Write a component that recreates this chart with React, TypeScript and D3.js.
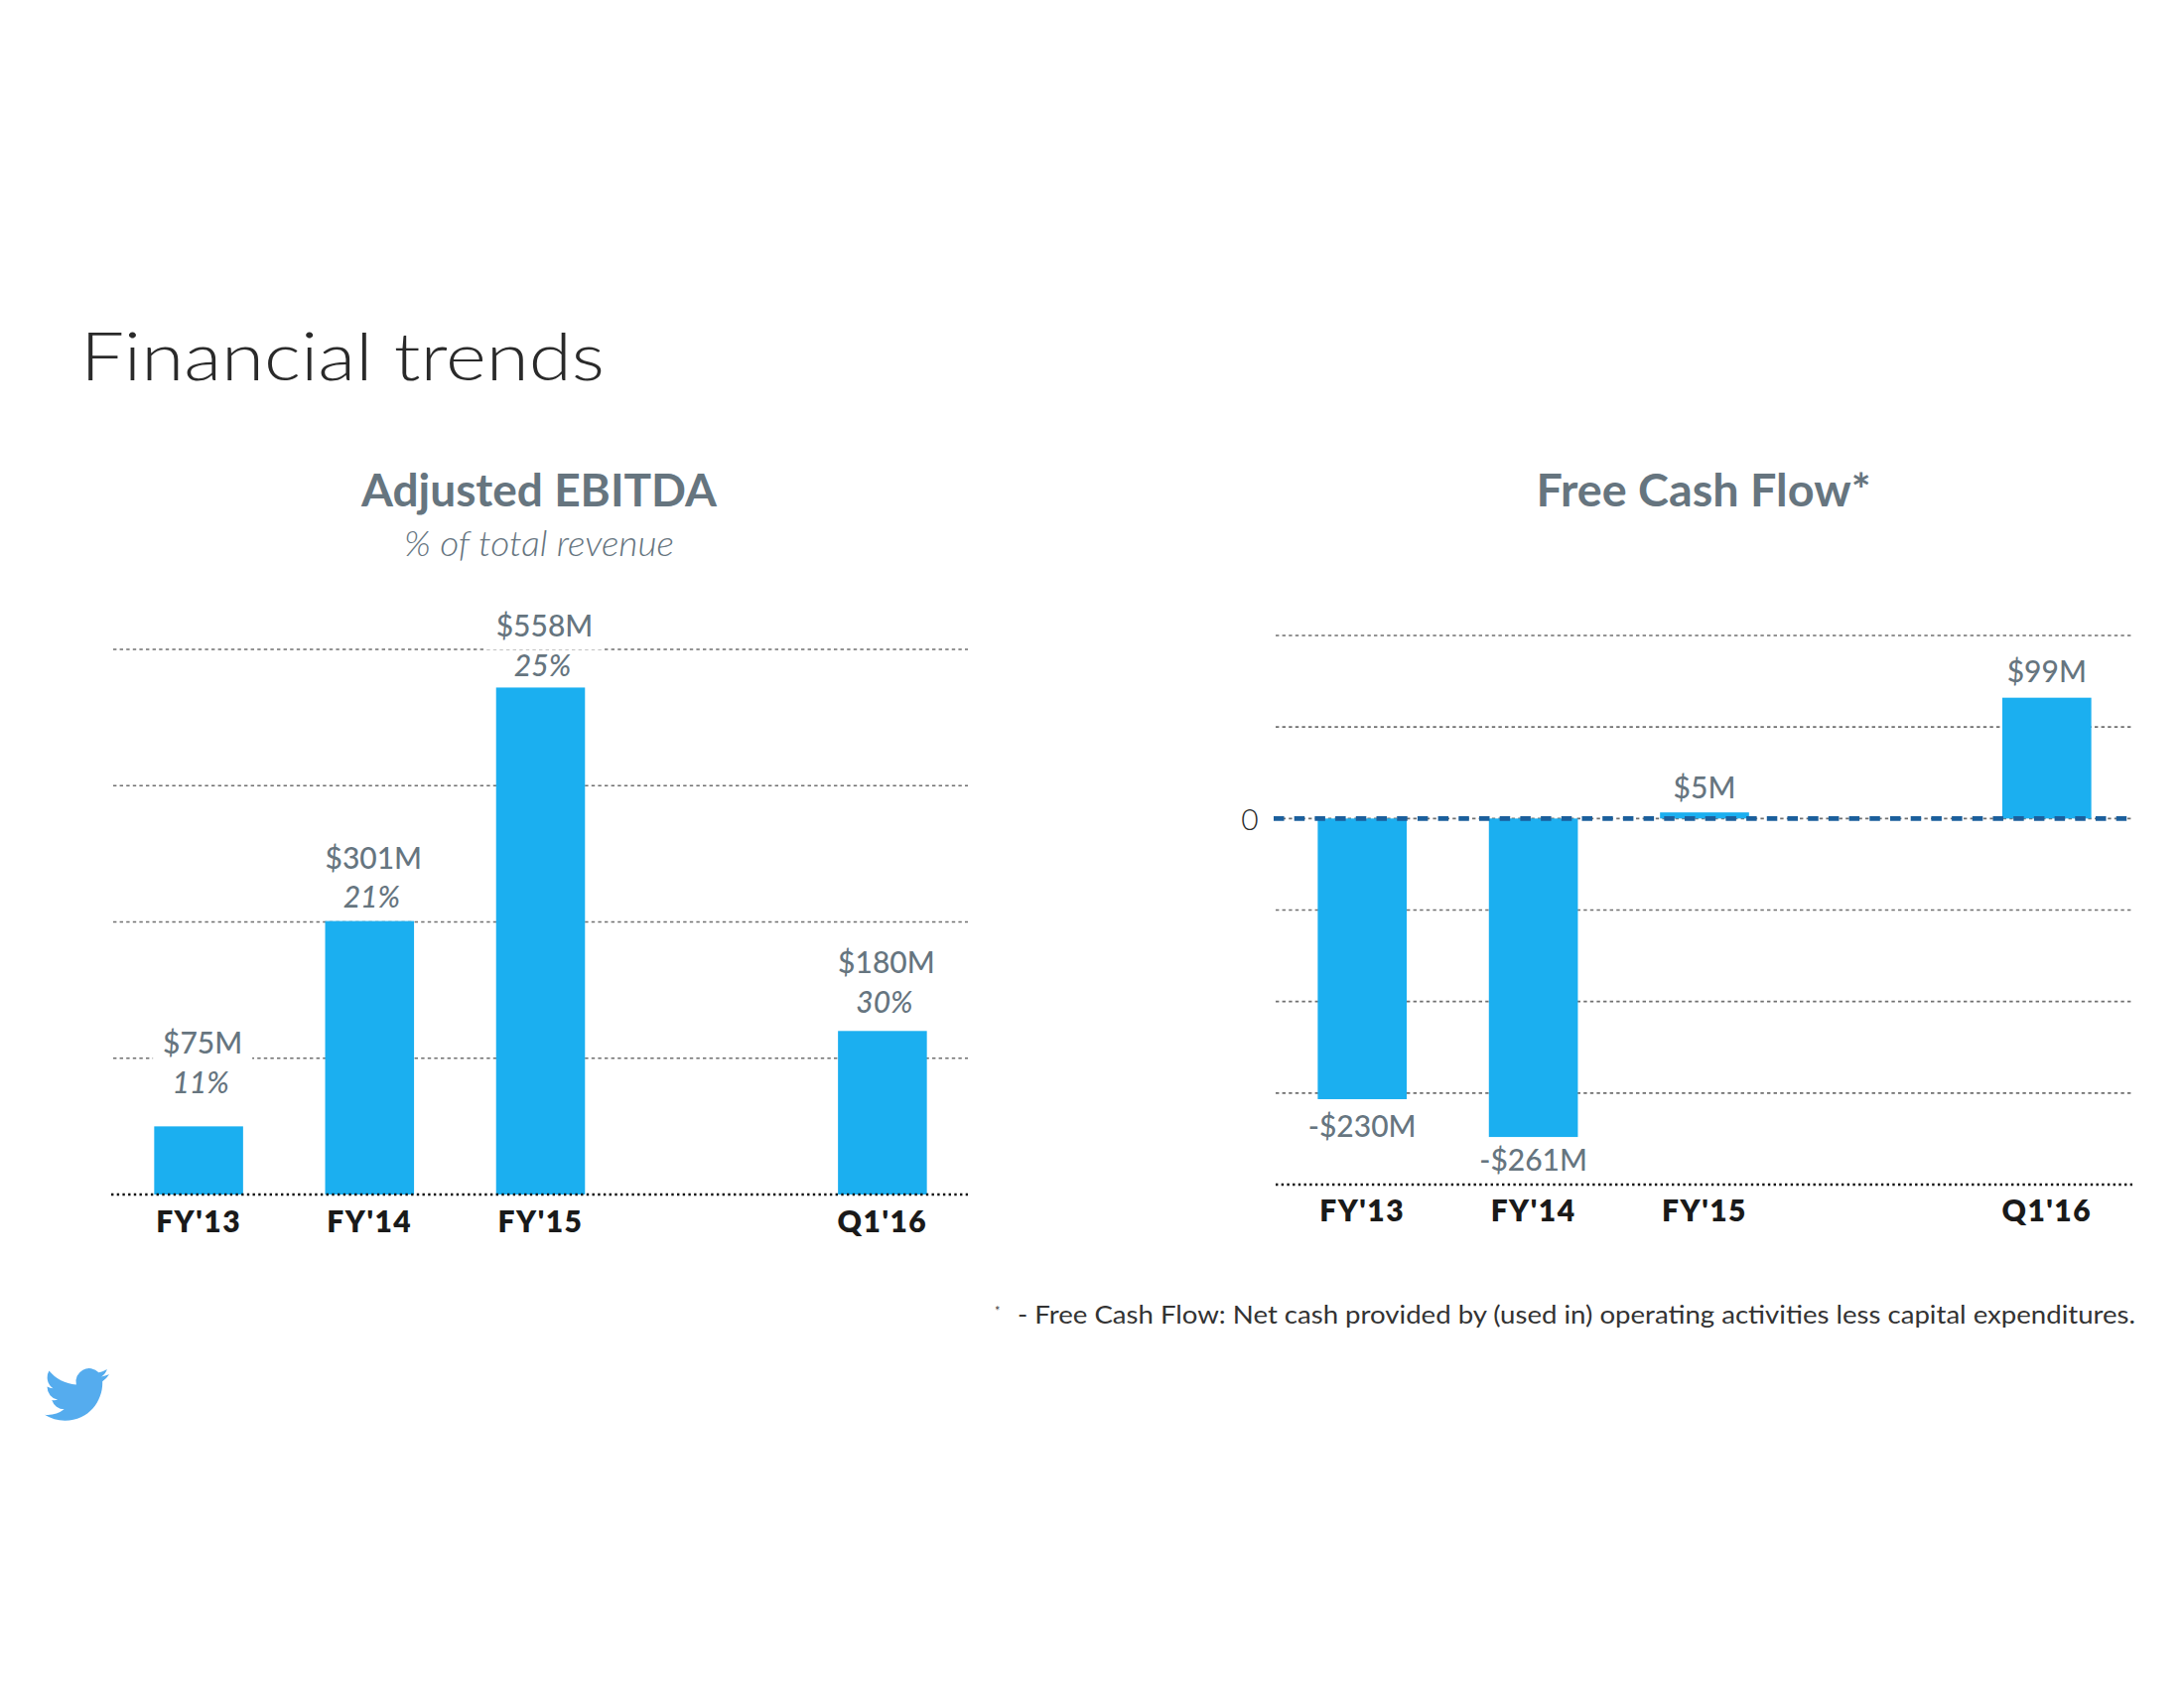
import React from "react";
import * as d3 from "d3";

// ---- data ----
const slots = ["FY'13", "FY'14", "FY'15", "gap", "Q1'16"];
const categories = ["FY'13", "FY'14", "FY'15", "Q1'16"];
const ebitdaValues = [75, 301, 558, 180];
const ebitdaValueLabels = ["$75M", "$301M", "$558M", "$180M"];
const ebitdaMarginLabels = ["11%", "21%", "25%", "30%"];
const ebitdaTicks = [150, 300, 450, 600];
const fcfValues = [-230, -261, 5, 99];
const fcfValueLabels = ["-$230M", "-$261M", "$5M", "$99M"];
const fcfTicks = [150, 75, -75, -150, -225];

// label placement (style)
const ebitdaLabelLift = [73, 53, 51, 58];
const fcfLabelGap = [38, 34, 14, 16];

const BAR = "#1BAFF0";
const GREY = "#66757F";
const FONT = "Lato, 'Open Sans', sans-serif";

export default function App() {
  const xL = d3.scaleBand<string>().domain(slots).range([114, 975]).paddingInner(0.48).paddingOuter(0.24);
  const yL = d3.scaleLinear().domain([0, 600]).range([1203, 654]);
  const xR = d3.scaleBand<string>().domain(slots).range([1286, 2148]).paddingInner(0.48).paddingOuter(0.24);
  const yR = d3.scaleLinear().domain([-300, 150]).range([1193, 640]);

  const grid = { stroke: "#707070", strokeWidth: 1.7, strokeDasharray: "3.4 3.2" };
  const base = { stroke: "#111", strokeWidth: 2.7, strokeDasharray: "2.4 3.3" };

  const twitterBird =
    "M23.953 4.57a10 10 0 01-2.825.775 4.958 4.958 0 002.163-2.723c-.951.555-2.005.959-3.127 1.184a4.92 4.92 0 00-8.384 4.482C7.69 8.095 4.067 6.13 1.64 3.162a4.822 4.822 0 00-.666 2.475c0 1.71.87 3.213 2.188 4.096a4.904 4.904 0 01-2.228-.616v.06a4.923 4.923 0 003.946 4.827 4.996 4.996 0 01-2.212.085 4.936 4.936 0 004.604 3.417 9.867 9.867 0 01-6.102 2.105c-.39 0-.779-.023-1.17-.067a13.995 13.995 0 007.557 2.209c9.053 0 13.998-7.496 13.998-13.985 0-.21 0-.42-.015-.63A9.935 9.935 0 0024 4.59z";

  return (
    <svg
      width={2200}
      height={1700}
      style={{ position: "absolute", left: 0, top: 0, background: "#fff" }}
      fontFamily={FONT}
    >
      <rect x={0} y={0} width={2200} height={1700} fill="#fff" />
      {/* Title */}
      <text x={81} y={383} fontSize={67} fontWeight={300} fill="#2a2a2a" textLength={528} lengthAdjust="spacingAndGlyphs">
        Financial trends
      </text>

      {/* ---------- Left: Adjusted EBITDA ---------- */}
      <text x={543} y={510} textAnchor="middle" fontSize={46} fontWeight={700} fill={GREY}>
        Adjusted EBITDA
      </text>
      <text x={543} y={560} textAnchor="middle" fontSize={35} fontStyle="italic" fontWeight={300} fill={GREY} textLength={272} lengthAdjust="spacingAndGlyphs">
        % of total revenue
      </text>
      {ebitdaTicks.map((t) => (
        <line key={t} x1={114} x2={975} y1={yL(t)} y2={yL(t)} {...grid} />
      ))}
      {categories.map((c, i) => {
        const cx = xL(c)! + xL.bandwidth() / 2;
        const ly = yL(ebitdaValues[i]) - ebitdaLabelLift[i];
        const w = ebitdaValueLabels[i].length * 20 + 20;
        return <rect key={"bg" + c} x={cx - w / 2 + 4} y={ly - 27} width={w} height={40} fill="#fff" />;
      })}
      {categories.map((c, i) => (
        <rect
          key={"b" + c}
          x={xL(c)}
          y={yL(ebitdaValues[i])}
          width={xL.bandwidth()}
          height={yL(0) - yL(ebitdaValues[i])}
          fill={BAR}
        />
      ))}
      <line x1={112} x2={975} y1={yL(0)} y2={yL(0)} {...base} />
      {categories.map((c, i) => {
        const cx = xL(c)! + xL.bandwidth() / 2;
        const ly = yL(ebitdaValues[i]) - ebitdaLabelLift[i];
        return (
          <g key={"l" + c}>
            <text x={cx + 4} y={ly} textAnchor="middle" fontSize={30} fontWeight={500} fill={GREY}>
              {ebitdaValueLabels[i]}
            </text>
            <text x={cx + 2} y={ly + 39.5} textAnchor="middle" fontSize={30} fontStyle="italic" fontWeight={500} fill={GREY}>
              {ebitdaMarginLabels[i]}
            </text>
            <text x={cx} y={yL(0) + 38} textAnchor="middle" fontSize={30} fontWeight={800} letterSpacing={1.5} fill="#1a1a1a">
              {c}
            </text>
          </g>
        );
      })}

      {/* ---------- Right: Free Cash Flow ---------- */}
      <text x={1716} y={510} textAnchor="middle" fontSize={46} fontWeight={700} fill={GREY} textLength={337} lengthAdjust="spacingAndGlyphs">
        Free Cash Flow*
      </text>
      {[...fcfTicks, 0].map((t) => (
        <line key={t} x1={1285} x2={2148} y1={yR(t)} y2={yR(t)} {...grid} />
      ))}
      {categories.map((c, i) => {
        const v = fcfValues[i];
        return (
          <rect
            key={"fb" + c}
            x={xR(c)}
            y={v >= 0 ? yR(v) : yR(0)}
            width={xR.bandwidth()}
            height={Math.abs(yR(v) - yR(0))}
            fill={BAR}
          />
        );
      })}
      <line
        x1={1283}
        x2={2146}
        y1={yR(0)}
        y2={yR(0)}
        stroke="#1B5F9C"
        strokeWidth={4.8}
        strokeDasharray="10.5 10.2"
      />
      <text x={1259} y={836} textAnchor="middle" fontSize={30} fontWeight={300} fill="#2a2a2a">
        {d3.format("d")(0)}
      </text>
      <line x1={1285} x2={2148} y1={yR(-300)} y2={yR(-300)} {...base} />
      {categories.map((c, i) => {
        const v = fcfValues[i];
        const cx = xR(c)! + xR.bandwidth() / 2;
        const ly = v >= 0 ? yR(v) - fcfLabelGap[i] : yR(v) + fcfLabelGap[i];
        return (
          <g key={"fl" + c}>
            <text x={cx} y={ly} textAnchor="middle" fontSize={30} fontWeight={500} fill={GREY}>
              {fcfValueLabels[i]}
            </text>
            <text x={cx} y={yR(-300) + 37} textAnchor="middle" fontSize={30} fontWeight={800} letterSpacing={1.5} fill="#1a1a1a">
              {c}
            </text>
          </g>
        );
      })}

      {/* Footnote */}
      <text x={1002} y={1325} fontSize={13} fill="#444">
        *
      </text>
      <text x={1025} y={1333} fontSize={25} fill="#333" textLength={1126} lengthAdjust="spacingAndGlyphs">
        - Free Cash Flow: Net cash provided by (used in) operating activities less capital expenditures.
      </text>

      {/* Twitter bird */}
      <path d={twitterBird} fill="#55ACEE" transform="translate(45,1372) scale(2.7)" />
    </svg>
  );
}
